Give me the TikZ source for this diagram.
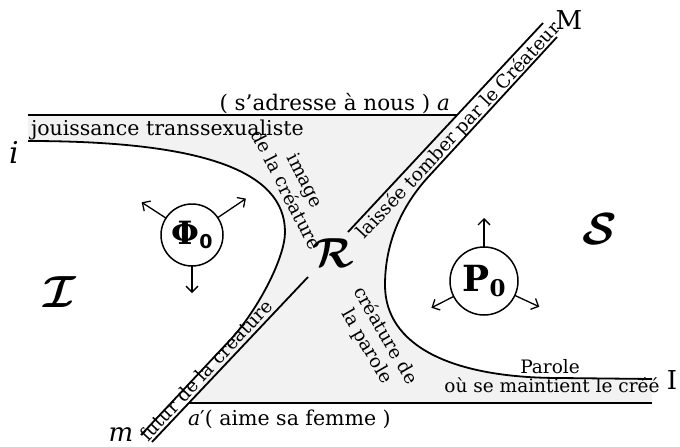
\documentclass[tikz,border=0pt]{standalone}
\usepackage{amsmath}
\usepackage{bm}
\usepackage{graphicx}
\usepackage{fontspec}
\setmainfont{DejaVu Serif}
\newfontfamily\dvsans{DejaVu Sans}
\usetikzlibrary{arrows.meta,calc}
\begin{document}
\begin{tikzpicture}[x=1pt,y=-1pt,
  every node/.style={inner sep=0pt,outer sep=0pt},
  curve/.style={line width=1.8pt},
  lbl/.style={font=\fontsize{18.5}{21}\selectfont},
  big/.style={font=\fontsize{26}{28}\selectfont},
  arr/.style={line width=1.3pt,-{Straight Barb[length=6pt,width=12pt,line width=1.3pt]}},
  ring/.style={circle,draw,line width=1.5pt}
]
\useasboundingbox (0,0) rectangle (680,447);
% shaded field
\fill[black!5] (28,115) -- (457,115) -- (430,175)
  .. controls (400,207) and (385,245) .. (385,285)
  .. controls (385,345) and (450,378) .. (560,378) -- (652,379)
  -- (652,403) -- (188.5,403) -- (232,338)
  .. controls (258,309) and (285,258) .. (285,232)
  .. controls (285,170) and (200,141) .. (28,141) -- cycle;
% lines
\draw[curve] (28,115) -- (457,115);
\draw[curve] (188.5,403) -- (652,403);
\draw[curve] (543,23) -- (348,232);
\draw[curve] (308,277) -- (152,442);
\draw[curve] (557,37) -- (430,175)
  .. controls (400,207) and (385,245) .. (385,285)
  .. controls (385,345) and (450,378) .. (560,378) -- (652,379);
\draw[curve] (28,141) .. controls (200,141) and (285,170) .. (285,232)
  .. controls (285,258) and (258,309) .. (232,338) -- (141,435);
% labels
\node[lbl,font=\fontsize{21.5}{24}\selectfont,anchor=base east] (adr) at (450,110) {( s'adresse à nous ) \textit{a}};
\node[lbl,font=\fontsize{20.5}{24}\selectfont,anchor=base west] (jou) at (31,135) {jouissance transsexualiste};
\node[big,font=\fontsize{30}{30}\selectfont] (ii) at (14,152) {\textit{i}};
\node[big] (MM) at (569,20) {M};
\node[big] (II) at (672,380) {I};
\node[big] (mm) at (121,435) {\textit{m}};
\node[lbl,font=\fontsize{20.5}{24}\selectfont,anchor=base west] (aime) at (188,425) {\textit{a}′( aime sa femme )};
\node[lbl,anchor=base] (par1) at (550,373) {Parole};
\node[lbl,anchor=base] (par2) at (552,392) {où se maintient le créé};
\node[lbl,align=center,rotate=-63] (img) at (296,185) {image\\de la créature};
\node[lbl,align=center,rotate=-60] (crp) at (376,341) {créature de\\la parole};
\node[lbl,rotate=47] (lais) at (459,131) {laissée tomber par le Créateur};
\node[lbl,rotate=47] (fut) at (206,370) {futur de la creature};
% script letters
\node (RR) at (333,253) {\scalebox{4.2}{$\bm{\mathcal{R}}$}};
\node (SS) at (600,229) {\scalebox{4.5}{$\bm{\mathcal{S}}$}};
\node (IS) at (60,292) {\scalebox{4.5}{$\bm{\mathcal{I}}$}};
% circles
\node[ring,minimum size=62pt] (phi) at (192,235) {\fontsize{32}{32}\selectfont\bfseries Φ\raisebox{-4pt}{\dvsans\fontsize{19}{19}\selectfont\bfseries 0}};
\node[ring,minimum size=68pt] (pp) at (484,281) {\fontsize{36}{36}\selectfont\bfseries P\raisebox{-5pt}{\fontsize{23}{24}\selectfont 0}};
\coordinate (phia) at ($(phi)+(147:60pt)$);
\coordinate (phib) at ($(phi)+(34:65pt)$);
\coordinate (phic) at ($(phi)+(270:58pt)$);
\draw[arr] (phi.147) -- (phia);
\draw[arr] (phi.34) -- (phib);
\draw[arr] (phi.270) -- (phic);
\coordinate (pa) at ($(pp)+(90:63pt)$);
\coordinate (pb) at ($(pp)+(207:59pt)$);
\coordinate (pc) at ($(pp)+(-25:61pt)$);
\draw[arr] (pp.90) -- (pa);
\draw[arr] (pp.207) -- (pb);
\draw[arr] (pp.-25) -- (pc);
\end{tikzpicture}
\end{document}
